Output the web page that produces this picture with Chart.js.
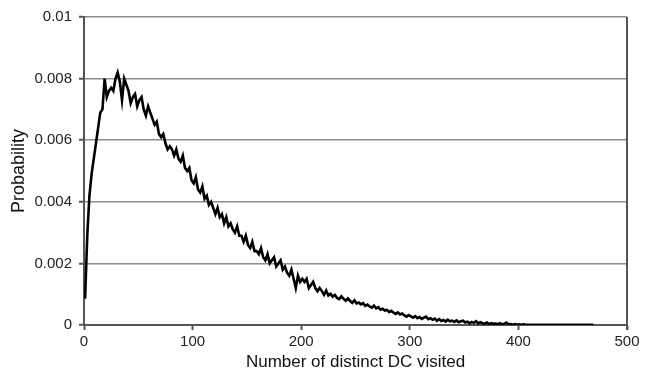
<!DOCTYPE html>
<html>
<head>
<meta charset="utf-8">
<script src="https://cdn.jsdelivr.net/npm/chart.js@4.4.1/dist/chart.umd.min.js"></script>
<style>
  html, body { margin: 0; padding: 0; background: #ffffff; }
  canvas { display: block; }
</style>
</head>
<body>
<canvas id="c" width="649" height="374"></canvas>
<script>
// Number of distinct DC visited (x values)
const dcVisited = [
  1, 3, 5, 7, 9, 11, 13, 15, 17, 19,
  21, 23, 25, 27, 29, 31, 33, 35, 37, 39,
  41, 43, 45, 47, 49, 51, 53, 55, 57, 59,
  61, 63, 65, 67, 69, 71, 73, 75, 77, 79,
  81, 83, 85, 87, 89, 91, 93, 95, 97, 99,
  101, 103, 105, 107, 109, 111, 113, 115, 117, 119,
  121, 123, 125, 127, 129, 131, 133, 135, 137, 139,
  141, 143, 145, 147, 149, 151, 153, 155, 157, 159,
  161, 163, 165, 167, 169, 171, 173, 175, 177, 179,
  181, 183, 185, 187, 189, 191, 193, 195, 197, 199,
  201, 203, 205, 207, 209, 211, 213, 215, 217, 219,
  221, 223, 225, 227, 229, 231, 233, 235, 237, 239,
  241, 243, 245, 247, 249, 251, 253, 255, 257, 259,
  261, 263, 265, 267, 269, 271, 273, 275, 277, 279,
  281, 283, 285, 287, 289, 291, 293, 295, 297, 299,
  301, 303, 305, 307, 309, 311, 313, 315, 317, 319,
  321, 323, 325, 327, 329, 331, 333, 335, 337, 339,
  341, 343, 345, 347, 349, 351, 353, 355, 357, 359,
  361, 363, 365, 367, 369, 371, 373, 375, 377, 379,
  381, 383, 385, 387, 389, 391, 393, 395, 397, 399,
  401, 403, 405, 407, 409, 411, 413, 415, 417, 419,
  421, 423, 425, 427, 429, 431, 433, 435, 437, 439,
  441, 443, 445, 447, 449, 451, 453, 455, 457, 459,
  461, 463, 465, 467, 469
];

// Probability (series values)
const probability = [
  0.00085, 0.0029, 0.0042, 0.0049, 0.0054, 0.0059, 0.0064, 0.0069, 0.0070, 0.0080,
  0.0074, 0.0076, 0.0077, 0.0076, 0.0080, 0.0082, 0.0079, 0.0073, 0.0080, 0.0078,
  0.0076, 0.0072, 0.0074, 0.0075, 0.0071, 0.0073, 0.0074, 0.0070, 0.0068, 0.0071,
  0.0069, 0.0067, 0.0065, 0.0066, 0.0062, 0.0061, 0.0062, 0.0059, 0.0057, 0.0058,
  0.0057, 0.0055, 0.0057, 0.0054, 0.0053, 0.0055, 0.0051, 0.0050, 0.0051, 0.0047,
  0.0046, 0.0048, 0.0044, 0.0043, 0.0045, 0.0041, 0.0042, 0.0039, 0.0040, 0.0038,
  0.0036, 0.0038, 0.0035, 0.0036, 0.0033, 0.0035, 0.0032, 0.0033, 0.0031, 0.0030,
  0.0032, 0.0029, 0.0029, 0.0027, 0.0029, 0.0026, 0.0025, 0.0027, 0.0024, 0.0024,
  0.0023, 0.0025, 0.0022, 0.0021, 0.0023, 0.0020, 0.0021, 0.0022, 0.0019, 0.0020,
  0.0021, 0.0018, 0.0019, 0.0017, 0.0016, 0.0018, 0.0015, 0.0012, 0.0016, 0.0014,
  0.0015, 0.0014, 0.0015, 0.0012, 0.0013, 0.0014, 0.0012, 0.0011, 0.0012, 0.0011,
  0.00098, 0.00112, 0.00096, 0.00101, 0.00092, 0.00098, 0.00088, 0.00084, 0.00093, 0.00085,
  0.00079, 0.00086, 0.00078, 0.00072, 0.00080, 0.00070, 0.00073, 0.00067, 0.00071, 0.00062,
  0.00066, 0.00060, 0.00056, 0.00063, 0.00054, 0.00058, 0.00050, 0.00053, 0.00047, 0.00049,
  0.00042, 0.00046, 0.00040, 0.00036, 0.00041, 0.00034, 0.00037, 0.00031, 0.00027, 0.00032,
  0.00028, 0.00024, 0.00029, 0.00022, 0.00026, 0.00020, 0.00024, 0.00027, 0.00019, 0.00022,
  0.00017, 0.00021, 0.00014, 0.00019, 0.00013, 0.00016, 0.00011, 0.00017, 0.00012, 0.00014,
  0.00010, 0.00015, 0.00009, 0.00012, 0.00014, 0.00008, 0.00011, 0.00006, 0.00010, 0.00007,
  0.00012, 0.00005, 0.00009, 0.00006, 0.00004, 0.00008, 0.00003, 0.00006, 0.00004, 0.00005,
  0.00003, 0.00006, 0.00002, 0.00004, 0.00008, 0.00002, 0.00003, 0.00001, 0.00003, 0.00001,
  0.00002, 0.00001, 0.00002, 0.00001, 0.000005, 0.00001, 0.000005, 0.00001, 0.000005, 0.000005,
  0.000005, 0.000005, 0.000005, 0.000005, 0.000005, 0.000005, 0.000005, 0.000005, 0.000005, 0.000005,
  0.000005, 0.000005, 0.000005, 0.000005, 0.000005, 0.000005, 0.000005, 0.000005, 0.000005, 0.000005,
  0.000005, 0.000005, 0.000005, 0.000005, 0.000005
];

const xTickLabels = ['0', '100', '200', '300', '400', '500'];
const yTickLabels = ['0', '0.002', '0.004', '0.006', '0.008', '0.01'];

const xTitle = 'Number of distinct DC visited';
const yTitle = 'Probability';

const frameRight = {
  id: 'frameRight',
  afterDatasetsDraw(chart) {
    const { ctx, chartArea } = chart;
    ctx.save();
    ctx.strokeStyle = '#555555';
    ctx.lineWidth = 2;
    ctx.beginPath();
    ctx.moveTo(chartArea.right, chartArea.top);
    ctx.lineTo(chartArea.right, chartArea.bottom + 5);
    ctx.stroke();
    ctx.restore();
  }
};

new Chart(document.getElementById('c'), {
  type: 'line',
  data: {
    datasets: [{
      data: dcVisited.map((x, i) => ({ x: x, y: probability[i] })),
      borderColor: '#000000',
      borderWidth: 2.6,
      pointRadius: 0,
      tension: 0,
      fill: false
    }]
  },
  options: {
    responsive: false,
    animation: false,
    devicePixelRatio: 1,
    layout: { padding: { top: 17, right: 22, left: 0, bottom: 0 } },
    plugins: { legend: { display: false }, tooltip: { enabled: false } },
    scales: {
      x: {
        type: 'linear',
        min: 0,
        max: 500,
        afterBuildTicks(scale) {
          scale.ticks = xTickLabels.map(v => ({ value: Number(v) }));
        },
        ticks: {
          callback: (v, i) => xTickLabels[i],
          font: { family: 'Liberation Sans', size: 15 },
          color: '#222222',
          padding: 3,
          maxRotation: 0
        },
        grid: {
          drawOnChartArea: false,
          drawTicks: true,
          tickLength: 5,
          tickColor: '#555555',
          tickWidth: 2
        },
        border: { color: '#555555', width: 2 },
        title: {
          display: true,
          text: xTitle,
          font: { family: 'Liberation Sans', size: 17 },
          color: '#111111',
          padding: { top: 0, bottom: 1 }
        },
        afterFit(scale) { scale.height = 49; }
      },
      y: {
        min: 0,
        max: 0.01,
        afterBuildTicks(scale) {
          scale.ticks = yTickLabels.map(v => ({ value: Number(v) }));
        },
        ticks: {
          callback: (v, i) => yTickLabels[i],
          font: { family: 'Liberation Sans', size: 15 },
          color: '#222222',
          padding: 7
        },
        grid: {
          color: '#8c8c8c',
          lineWidth: 1.5,
          drawTicks: true,
          tickLength: 5,
          tickColor: '#555555',
          tickWidth: 2
        },
        border: { color: '#555555', width: 2 },
        title: {
          display: true,
          text: yTitle,
          font: { family: 'Liberation Sans', size: 18 },
          color: '#111111',
          padding: { top: 8, bottom: 0 }
        },
        afterFit(scale) { scale.width = 84; }
      }
    }
  },
  plugins: [frameRight]
});
</script>
</body>
</html>
